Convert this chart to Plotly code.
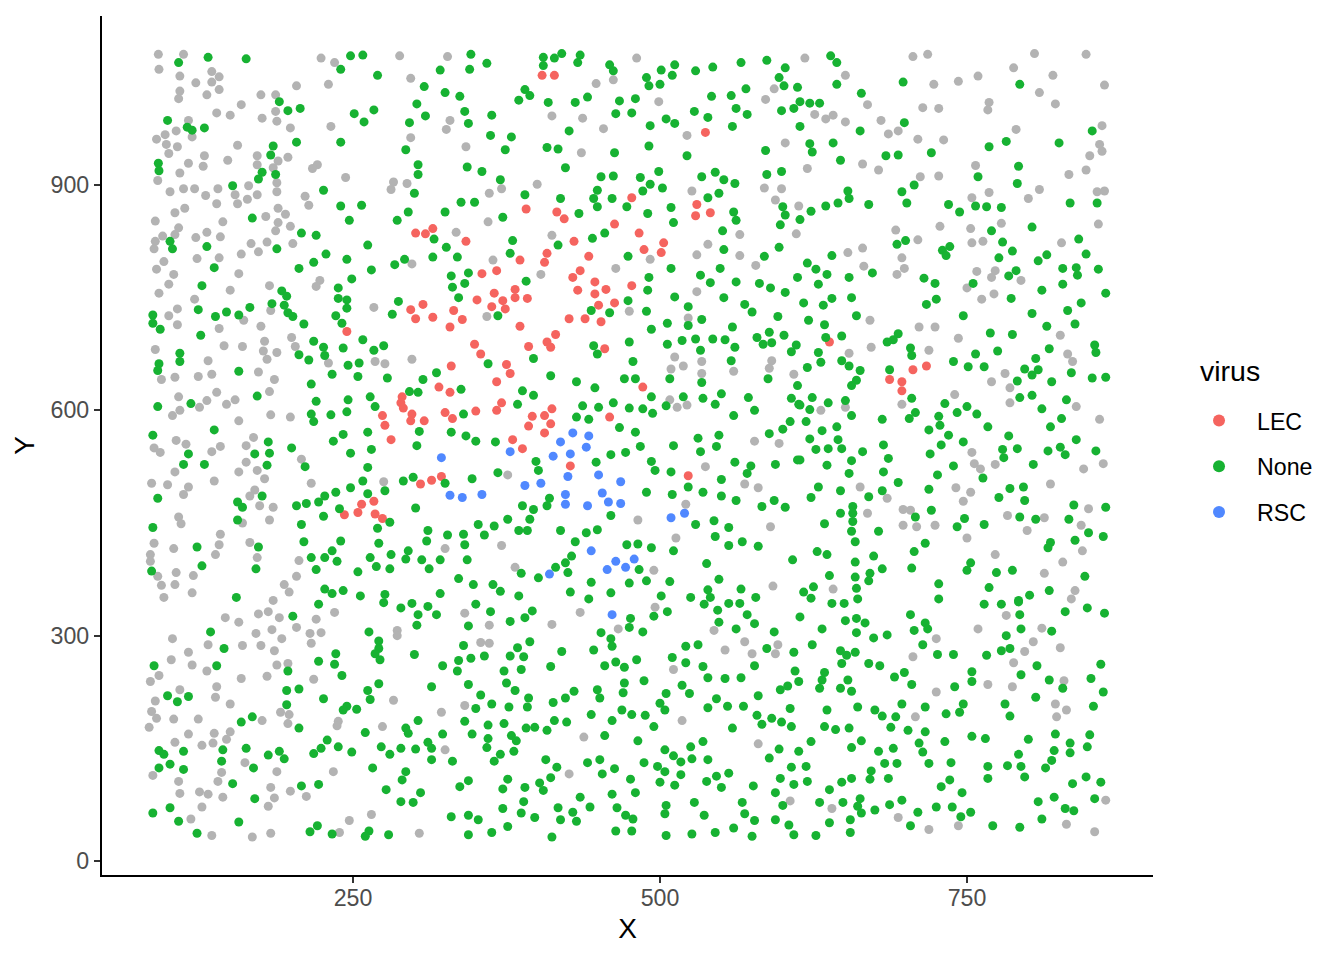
import plotly.graph_objects as go

lec_points = [(301,836),(309,835),(315,842),(307,741),(297,734),(301,722),(315,724),
(404,1046),(414,1046),(537,970),(391,868),(416,864),(422,855),(477,883),(530,874),(529,859),(541,863),(463,848),(483,836),(342,825),(430,825),(503,823),(487,814),(501,810),(408,809),(406,797),(386,800),(442,805),(355,782),(367,786),(435,786),(429,777),(447,771),(456,761),(433,760),(447,755),(477,766),(382,761),(382,750),(392,749),(365,756),(351,747),(372,746),(363,738),(374,735),(450,740),(463,743),(332,733),(339,721),(426,722),(439,722),(452,718),
(245,705),(274,593),(276,580),(281,561),(290,618),(289,610),(291,603),(298,595),(297,586),(308,586),(320,631),(325,597),(322,512),(314,507),(305,502),(267,479),(257,475),(254,464),(243,461),(268,462),(274,456),(329,711),
(386,712),(415,701),(408,691),(393,685),(411,684),(349,688),(354,675),(455,682),(375,661),(378,649),(367,638),(330,659),(486,631),(371,610),(367,600),(350,599),(412,602),(396,592),(406,593),(411,582),(393,579),(406,570),(459,591),(331,589),(329,624),(380,561),(388,549),(427,526),(523,513),
(638,691),(706,654),(717,659),(687,641),(697,638),(697,626)]

rsc_points = [(322,537),(429,570),(442,566),(419,558),(440,551),(378,545),(427,542),(413,539),(425,512),(450,514),(468,505),(403,503),(390,500),(423,488),(453,490),(458,478),(468,476),(423,475),(441,473),(355,488),(339,484),(329,487),(509,457),(520,463),(444,413),(479,402),(464,399),(472,391),(457,388),(410,382),(461,328)]

unlabelled_top = [(91.5,1074),(112,1074),(92,1054),(109,1045),(135,1051),(141,1044),(122,1036),(135,1037),(109,1025),(108,1015),(141,1027),(131,1020),(175,1020),(187,1020),(159,1007),(139,996),(150,993),(187,998),(176,989),(188,985),(116,986),(106,972),(97,967),(90,961),(119,964),(98,954),(107,951),(100,942),(156,953),(199,976),(204,1032),(230,1034),(224,1069),(235,1063),(288,1072),(327,1071),(297,1042),(232,978),(297,963),(329,986),(326,974),
(129,939),(116,929),(128,925),(148,933),(172,939),(172,927),(189,932),(197,937),(185,923),(109,916),(91,906),(188,903),(165,899),(188,891),(172,887),(164,881),(154,887),(156,875),(139,875),(140,895),(130,886),(121,895),(112,895),(101,891),(221,927),(217,922),(244,910),(211,885),(214,873),(283,904),(281,894),(294,902),(113,869),(105,863),(89,852),(144,851),(189,869),(195,861),(179,858),(189,850),(108,843),(105,834),(95,832),(89,825),(88,815),(131,837),(122,830),(142,831),(187,839),(199,845),(167,822),(180,824),(173,811),(201,822),(159,808),(141,803),(123,802),(96,798),(90,788),(104,781),(100,768),(92,756),(157,782),(298,795),(223,773),(220,765),(182,766),(150,760),(121,748),(107,735),(100,726),(267,737),(183,733),(161,720),
(481,1069),(448,1035),(462,1040),(499,1011),(412,992),(437,989),(454,975),(342,951),(436,943),(522,966),(361,889),(371,895),(400,901),(360,851),(334,837),(412,833),(526,892),(585,896),(599,895),(594,880),(593,1028),(586,1014),(602,956),(613,872),(611,835),(565,834),(539,821),(530,807),(565,806),(578,793),(492,801),(464,789),(364,800),(403,781),(530,758),(475,732),(359,725),(523,723),
(618,1069),(706,1071),(718,1074),(805,1075),(847,1074),(788,1056),(759,1045),(743,1038),(820,1046),(651,1046),(723,1034),(809,1023),(862,1033),(669,1007),(714,1003),(727,1002),(768,1010),(767,1000),(822,1008),(626,994),(635,988),(641,993),(651,984),(680,986),(686,968),(694,972),(710,961),(731,960),(790,974),(860,979),(858,954),(860,945),(850,939),(847,920),(833,914),(620,922),(665,928),(678,920),(712,911),(727,912),(757,926),(768,890),(754,883),(800,882),(809,894),(856,891),(862,892),(857,848),(778,849),(728,845),(753,842),(692,840),(710,827),(754,823),(763,825),(827,823),(653,810),(665,816),(697,803),(666,792),(699,789),(693,781),(758,785),(773,786),(770,777),(794,773),(750,763),(762,748),(772,755),(671,720)]

unlabelled_mid = [(107,714),(175,712),(141,709),(200,697),(178,692),(145,686),(160,685),(203,685),(89,681),(177,679),(188,677),(180,668),(132,666),(230,663),(268,665),(276,662),(298,668),(173,651),(135,648),(124,645),(105,644),(94,641),(186,641),(182,625),(139,624),(108,618),(131,613),(154,614),(147,608),(125,604),(109,600),(103,593),(183,594),(199,591),(157,586),(169,564),(106,560),(114,555),(163,553),(142,552),(88,550),(93,544),(135,545),(208,535),(163,531),(105,518),(157,518),(172,520),(178,509),(137,506),(86,503),(99,501),(216,503),(275,505),(116,498),(170,494),(166,486),(112,488),(174,473),(185,471),(182,454),(160,450),(108,458),(110,449),(142,435),(141,421),(88,423),(104,416),(166,424),(138,408),(85,408),(85,399),(172,404),(206,400),(325,416),(106,384),(120,380),(91,379),(94,367),(105,368),(204,379),(194,368),(198,358),(119,357),(96,351),(185,347),
(512,671),(519,659),(509,655),(534,665),(534,649),(560,652),(591,666),(589,656),(609,648),(508,614),(514,604),(522,607),(577,559),(597,556),(537,525),(376,514),(569,502),(580,497),(521,475),(482,454),(590,445),(513,430),(371,420),(382,391),(495,387),(592,366),
(711,711),(724,711),(743,696),(826,700),(672,684),(654,676),(719,680),(832,675),(836,665),(781,649),(770,638),(785,630),(785,610),(740,621),(697,608),(631,600),(651,604),(839,605),(858,588),(754,544),(756,529),(761,522),(773,528),(845,522),(861,529),(818,502),(663,498),(741,497),(753,491),(685,483),(747,479),(698,468),(704,467),(669,463),(849,469),(783,460),(813,457),(843,447),(698,447),(709,445),(724,447),(799,440),(750,430),(844,413),(773,408),(828,398),(813,383),(641,362),(838,360),(835,349)]

unlabelled_low = [(146,324),(157,318),(173,329),(181,332),(190,324),(220,322),(235,331),(184,308),(171,303),(204,311),(215,303),(224,304),(192,296),(103,296),(132,288),(160,287),(175,287),(216,290),(186,280),(286,307),(286,300),(116,278),(102,268),(119,261),(131,253),(188,261),(197,263),(159,243),(180,246),(218,242),(92,247),(85,239),(139,232),(109,228),(138,218),(89,213),(150,209),(283,214),(86,199),(191,198),(198,195),(322,198),(90,190),(104,189),(124,189),(176,187),(197,183),(238,186),(237,180),(84,178),(274,179),(116,169),(137,170),(150,172),(147,162),(105,158),(136,157),(127,154),(325,148),(162,131),(87,114),(143,118),(188,119),(234,119),(108,106),(140,106),(183,98),(109,90),(125,92),(132,89),(144,85),(199,93),(186,84),(212,86),(127,72),(181,73),(265,62),(118,56),(247,54),(239,38),(183,37),(304,37),(135,34),(168,32),
(341,330),(435,331),(496,338),(412,315),(361,314),(466,309),(354,291),(361,290),(341,207),(544,307),(569,292),(553,281),(575,276),(596,288),(594,276),(511,255),(518,187),(438,165),(580,156),(426,116),(606,80),
(782,327),(759,309),(811,310),(804,292),(725,296),(826,284),(797,279),(706,272),(788,264),(829,240),(767,235),(787,232),(725,225),(822,209),(831,201),(823,192),(708,192),(640,70),(694,58),(863,81),(831,49),(719,42),(743,47),(854,39)]

none_top_left = [(108,1063),(132,1070),(163,1068),(248,1072),(258,1073),(240,1054),(270,1046),(321,1053),(308,1031),(325,1023),(302,1008),(309,992),(296,983),(293,947),(190,1011),(197,999),(207,1002),(251,995),(267,1000),(259,984),(240,957),(204,957),(99,986),(115,977),(119,973),(129,976),(185,952),(183,940),(91.5,929),(92,919),(176,917),(187,914),(173,908),(152,899),(226,893),(303,927),(303,914),(300,889),(240,872),(257,873),(247,853),(286,853),(295,864),(325,864),(168,856),(208,836),(220,833),(101,825),(103,815),(131,818),(188,815),(262,820),(316,828),(326,817),(228,808),(245,801),(218,797),(206,789),(137,790),(292,801),(284,794),(315,804),(265,787),(249,775),(127,766),(238,763),(192,759),(196,752),(184,742),(194,740),(197,730),(238,749),(245,747),(245,736),(287,745),(282,728),(124,734),(147,731),(157,727),(166,737),(138,725),(87,727),(201,725),(236,726)]

none_top_mid = [(346,1074),(345,1054),(359,1062),(405,1070),(405,1059),(414,1069),(420,1075),(435,1073),(433,1063),(459,1060),(462,1052),(489,1043),(501,1053),(512,1060),(510,1046),(491,1032),(500,1034),(529,1052),(543,1057),(566,1063),(587,1066),(602,1056),(597,1043),(601,1032),(612,1030),(337,1018),(390,1027),(394,1019),(385,1013),(409,1010),(431,1010),(441,1017),(467,1012),(480,1015),(341,998),(344,982),(363,993),(362,966),(379,964),(374,947),(426,972),(408,950),(417,948),(464,995),(477,996),(492,979),(505,988),(512,982),(528,998),(539,990),(542,1018),(558,1019),(570,1028),(562,1002),(571,994),(559,978),(599,999),(609,1002),(614,1011),(491,952),(463,943),(522,939),(586,946),(423,923),(343,924),(355,918),(370,907),(390,887),(338,877),(349,877),(372,857),(419,882),(434,862),(452,911),(462,912),(449,893),(446,882),(461,882),(449,871),(473,871),(484,910),(499,918),(492,901),(486,892),(502,896),(490,862),(509,870),(511,850),(534,911),(545,917),(552,907),(561,902),(548,889),(539,883),(560,864),(562,853),(587,914),(599,918),(600,871),(602,860),(598,847),(614,854),(614,978),(551,839),(455,836),(445,829),(417,820),(380,826),(378,809),(335,804),(474,805),(552,814),(597,817),(585,805),(549,789),(509,789),(491,777),(490,760),(474,746),(512,751),(533,780),(541,770),(562,771),(581,769),(590,763),(602,757),(612,777),(552,750),(569,741),(575,731),(596,725),(523,738),(489,732),(459,730),(444,733),(344,783),(330,779),(341,769),(331,764),(336,750),(391,772),(368,726),(534,721)]

none_top_right = [(639,1072),(644,1063),(644,1034),(698,1037),(664,1022),(793,1034),(622,1009),(630,1009),(663,972),(699,983),(622,955),(624,944),(641,956),(647,933),(684,939),(694,940),(721,943),(768,951),(782,958),(825,956),(852,972),(792,925),(759,911),(791,902),(707,900),(697,891),(701,876),(653,892),(654,882),(645,876),(635,872),(623,865),(670,874),(735,874),(744,864),(757,872),(766,871),(778,870),(834,876),(856,876),(803,844),(770,839),(779,824),(787,812),(841,828),(847,808),(815,807),(808,799),(776,803),(693,821),(700,826),(736,818),(730,813),(733,806),(640,806),(620,796),(627,788),(636,781),(629,768),(654,777),(673,783),(715,776),(724,769),(790,786),(784,779),(755,769),(828,789),(839,790),(840,780),(857,788),(828,768),(811,760),(863,756),(843,743),(832,733),(803,729),(786,749),(725,748),(717,741),(747,726),(660,726),(656,750),(640,749),(633,740),(617,743),(621,720)]

none_mid_left = [(87,716),(93,708),(126,700),(210,715),(241,716),(218,692),(226,684),(258,694),(242,683),(275,686),(267,680),(109,676),(92,662),(109,665),(91,653),(157,652),(206,674),(227,673),(214,667),(246,660),(255,663),(233,648),(254,645),(278,643),(216,635),(172,619),(91,605),(118,609),(220,612),(246,614),(264,618),(268,605),(296,625),(303,624),(307,641),(318,650),(216,595),(218,585),(232,594),(245,598),(137,574),(87,567),(304,572),(242,568),(234,559),(262,571),(181,558),(116,542),(170,542),(182,543),(200,550),(248,543),(265,548),(302,553),(112,528),(129,528),(180,527),(211,525),(262,524),(258,506),(291,506),(299,511),(325,503),(91,483),(176,486),(156,478),(160,471),(204,473),(212,476),(222,478),(227,486),(236,491),(248,497),(262,489),(276,493),(239,469),(226,459),(301,470),(156,454),(280,451),(87,444),(208,448),(270,443),(311,440),(327,434),(310,426),(210,425),(240,426),(271,423),(123,418),(173,418),(233,413),(295,413),(281,408),(264,404),(293,402),(306,401),(321,401),(216,404),(227,404),(237,399),(127,393),(171,389),(86,386),(220,388),(254,385),(269,392),(280,389),(312,389),(227,362),(233,356),(242,360),(256,353),(276,355),(321,356),(155,351)]

none_mid_mid = [(493,708),(506,716),(523,713),(559,711),(446,686),(449,675),(475,691),(506,688),(518,693),(529,695),(543,695),(553,694),(561,684),(533,680),(558,666),(478,665),(397,669),(360,662),(411,646),(432,638),(471,642),(480,642),(508,642),(534,637),(447,630),(338,628),(388,626),(397,620),(384,608),(493,618),(519,618),(505,606),(535,616),(545,608),(550,622),(462,610),(437,606),(450,604),(475,603),(486,602),(494,596),(560,593),(340,595),(432,591),(442,588),(467,577),(480,571),(330,571),(342,566),(350,559),(366,558),(531,563),(548,567),(546,552),(533,545),(511,553),(484,552),(472,544),(460,541),(448,531),(399,532),(401,520),(368,517),(347,509),(493,532),(496,520),(509,518),(561,531),(574,526),(571,516),(550,508),(523,498),(489,491),(510,488),(535,491),(550,486),(562,480),(410,483),(408,473),(388,473),(397,468),(593,480),(583,472),(602,471),(460,460),(376,455),(394,455),(352,448),(365,446),(385,440),(392,440),(340,435),(357,434),(419,440),(440,437),(449,441),(529,448),(544,453),(556,444),(545,432),(556,420),(567,425),(580,419),(341,421),(431,425),(473,421),(482,422),(493,417),(511,413),(343,401),(428,406),(423,397),(415,391),(425,384),(401,377),(387,383),(483,388),(538,396),(608,401),(336,376),(348,368),(364,368),(370,359),(385,353),(427,358),(444,371),(475,370),(489,373),(508,372),(548,375),(539,361),(566,362),(460,357),(442,349),(501,353),(525,351),(541,351),(578,351),
(579,697),(589,704),(601,700),(584,688),(591,690),(611,687),(607,678),(588,642),(612,633),(607,616),(613,608),(572,617),(577,600),(606,585),(600,575),(589,569),(594,528),(612,534)]

none_mid_right = [(634,714),(815,712),(838,715),(635,697),(648,699),(694,702),(690,694),(685,691),(769,703),(787,701),(704,683),(705,673),(629,677),(631,664),(620,657),(648,666),(654,659),(663,653),(660,640),(656,633),(687,654),(739,665),(757,675),(775,679),(817,682),(854,687),(855,677),(806,669),(751,658),(764,658),(797,655),(808,654),(803,647),(791,639),(819,638),(835,650),(852,643),(863,644),(793,617),(803,620),(705,616),(624,617),(614,607),(637,610),(651,613),(622,601),(656,593),(619,585),(681,588),(708,597),(703,589),(732,609),(742,597),(750,605),(758,595),(727,592),(728,580),(719,574),(735,567),(767,578),(811,602),(831,614),(827,589),(818,578),(644,578),(632,573),(622,562),(645,561),(627,548),(637,549),(648,549),(665,545),(682,554),(686,536),(656,533),(614,534),(636,527),(654,516),(682,518),(729,554),(747,558),(720,542),(739,526),(726,514),(784,566),(779,548),(791,549),(780,537),(804,528),(816,546),(826,551),(830,541),(839,561),(855,546),(763,510),(694,504),(629,498),(647,493),(623,484),(670,485),(681,493),(719,495),(785,496),(796,498),(776,484),(797,480),(657,472),(657,463),(647,463),(657,452),(634,449),(656,439),(678,439),(659,425),(708,458),(721,467),(748,456),(742,445),(764,448),(793,458),(806,455),(833,455),(837,474),(863,471),(849,437),(861,432),(838,427),(818,424),(816,417),(716,423),(707,412),(628,412),(636,408),(674,406),(659,398),(753,397),(681,389),(671,383),(659,378),(670,373),(705,390),(750,387),(774,384),(787,387),(846,379),(638,380),(625,365),(617,358),(660,363),(727,369),(768,364),(817,360),(801,354),(792,347),(623,350),(661,349),(727,349)]

none_low_left = [(222,342),(275,344),(289,337),(298,343),(311,339),(303,328),(318,328),(302,314),(201,326),(134,305),(263,305),(271,293),(145,283),(271,283),(268,276),(236,276),(300,275),(272,268),(222,266),(235,262),(88,260),(139,260),(323,260),(197,253),(241,247),(271,236),(314,232),(206,229),(196,227),(262,227),(99,220),(116,219),(107,212),(226,216),(264,215),(196,208),(245,206),(242,201),(253,202),(168,192),(159,185),(303,187),(206,177),(293,177),(295,170),(260,171),(323,169),(311,158),(314,150),(229,161),(224,150),(238,152),(273,152),(289,150),(301,149),(92,147),(96,142),(112,146),(144,148),(163,150),(190,146),(181,141),(194,136),(218,143),(249,145),(280,142),(314,135),(143,133),(101,129),(92,124),(112,122),(169,124),(266,124),(293,119),(290,108),(152,103),(208,100),(222,102),(277,95),(305,91),(170,83),(289,79),(299,78),(87,64),(101,71),(108,53),(157,52),(123,37),(221,47),(215,39),(233,36),(263,40),(260,33),(279,35)]

none_low_mid = [(350,342),(362,332),(396,333),(390,324),(378,319),(344,313),(476,323),(475,311),(495,326),(506,332),(536,342),(556,343),(565,343),(547,334),(571,328),(548,318),(577,316),(562,309),(593,305),(614,325),(486,305),(452,304),(460,296),(461,286),(446,281),(420,279),(394,292),(384,284),(340,287),(378,273),(389,272),(357,273),(346,270),(336,267),(335,253),(373,253),(387,255),(411,259),(521,286),(531,288),(510,271),(521,264),(535,259),(587,283),(609,278),(577,260),(610,253),(539,244),(553,243),(566,244),(455,260),(464,265),(471,258),(481,268),(471,237),(487,240),(344,235),(375,237),(382,227),(354,221),(393,217),(430,226),(423,217),(413,211),(449,228),(451,217),(470,224),(505,223),(518,234),(524,223),(598,228),(604,233),(613,239),(580,220),(546,216),(500,210),(504,201),(539,204),(555,206),(568,206),(606,203),(350,203),(363,209),(377,205),(392,205),(469,201),(477,195),(488,194),(444,195),(461,187),(579,194),(591,190),(599,185),(583,182),(607,179),(559,177),(495,179),(341,186),(360,181),(373,183),(414,187),(424,185),(391,177),(398,178),(408,174),(347,169),(379,167),(383,160),(360,163),(359,151),(381,146),(370,142),(365,133),(331,133),(455,167),(482,160),(535,159),(525,152),(504,148),(511,140),(517,132),(526,136),(539,135),(597,149),(589,137),(613,146),(407,135),(416,125),(411,111),(441,131),(451,135),(463,123),(453,116),(487,131),(498,126),(504,119),(517,115),(556,117),(546,113),(538,106),(550,98),(607,125),(598,110),(609,102),(576,100),(594,91),(476,109),(500,105),(512,101),(344,107),(337,99),(376,109),(372,96),(390,98),(402,104),(405,94),(461,89),(480,91),(435,85),(389,79),(372,70),(417,71),(443,72),(465,71),(505,74),(528,78),(567,78),(600,74),(330,59),(344,61),(352,55),(387,64),(398,58),(429,65),(419,55),(432,53),(472,61),(478,56),(504,63),(536,61),(569,63),(577,54),(594,55),(605,48),(376,46),(363,38),(344,35),(412,32),(464,40),(477,40),(505,34),(526,36),(545,38),(560,44),(575,33),(609,35)]

none_low_right = [(640,343),(650,343),(651,320),(660,323),(667,317),(632,309),(660,304),(674,297),(685,301),(704,328),(716,317),(718,309),(707,307),(714,288),(726,275),(739,275),(624,288),(647,280),(652,274),(659,278),(648,263),(670,263),(679,260),(634,251),(632,241),(630,230),(653,241),(647,230),(656,226),(691,245),(699,251),(705,235),(740,232),(754,252),(754,239),(766,274),(778,280),(785,283),(782,300),(794,309),(819,306),(793,328),(764,342),(778,342),(792,345),(830,332),(848,337),(862,330),(807,260),(794,248),(817,241),(859,262),(851,243),(828,230),(861,225),(806,218),(781,209),(785,193),(853,206),(636,201),(661,205),(675,201),(681,193),(697,209),(692,192),(716,205),(733,196),(747,209),(744,198),(634,179),(643,175),(654,177),(688,178),(702,174),(716,172),(754,166),(765,163),(800,162),(822,169),(850,168),(623,159),(664,160),(656,151),(690,150),(678,146),(711,157),(732,159),(714,145),(834,157),(848,152),(834,144),(821,147),(819,134),(792,142),(619,126),(683,130),(693,130),(719,130),(737,131),(783,127),(794,126),(814,124),(767,126),(672,120),(671,109),(686,110),(656,110),(648,105),(620,106),(767,110),(797,112),(736,108),(729,99),(847,112),(859,105),(836,103),(638,95),(746,91),(663,83),(630,78),(649,78),(661,73),(664,64),(675,68),(687,75),(697,81),(821,85),(808,79),(854,83),(830,70),(837,67),(710,65),(725,72),(738,72),(753,65),(745,59),(811,56),(638,51),(655,55),(704,47),(771,47),(793,45),(655,38),(627,34)]

unlabelled_points = unlabelled_top + unlabelled_mid + unlabelled_low
none_points = (none_top_left + none_top_mid + none_top_right + none_mid_left + none_mid_mid
               + none_mid_right + none_low_left + none_low_mid + none_low_right)

x_ticks = [250, 500, 750]
y_ticks = [0, 300, 600, 900]

fig = go.Figure()
FONT = "Liberation Sans, Arial, sans-serif"
SIZE = 9

def add(points, name, color, show=True):
    fig.add_trace(go.Scatter(
        x=[p[0] for p in points], y=[p[1] for p in points],
        mode="markers", name=name, legendgroup=name, showlegend=show,
        marker=dict(color=color, size=SIZE, line=dict(width=0)),
        hoverinfo="x+y+name"))

add(unlabelled_points, "NA", "#B3B3B3", show=False)
add(lec_points, "LEC", "#F5645F")
add(none_points, "None", "#17B232")
add(rsc_points, "RSC", "#5088FF")

fig.add_annotation(text="virus", xref="paper", yref="paper",
                   x=1.0428, y=0.5867, xanchor="left", yanchor="middle",
                   showarrow=False, font=dict(size=28.5, color="black"))

fig.update_layout(
    width=1336, height=952, autosize=False,
    margin=dict(l=94, r=191, t=8, b=85, pad=0),
    paper_bgcolor="white", plot_bgcolor="white",
    font=dict(family=FONT, color="black"),
    legend=dict(
        font=dict(size=23.2, color="black"),
        xref="container", yref="container",
        x=0.878, xanchor="left", y=0.5893, yanchor="top",
        tracegroupgap=12.5, itemwidth=66, itemsizing="constant",
        traceorder="grouped", bgcolor="rgba(0,0,0,0)"),
)
fig.update_xaxes(
    title=dict(text="X", font=dict(size=28, color="black"), standoff=8),
    range=[45.6, 901.5], tickmode="array", tickvals=x_ticks,
    tickfont=dict(size=23.2, color="#4D4D4D"), ticklabelstandoff=-5,
    ticks="outside", ticklen=6, tickwidth=2, tickcolor="#333333",
    showgrid=False, zeroline=False, showline=True, linecolor="black", linewidth=2.2)
fig.update_yaxes(
    title=dict(text="Y", font=dict(size=28, color="black"), standoff=8),
    range=[-18.6, 1125], tickmode="array", tickvals=y_ticks,
    tickfont=dict(size=23.2, color="#4D4D4D"),
    ticks="outside", ticklen=6, tickwidth=2, tickcolor="#333333",
    showgrid=False, zeroline=False, showline=True, linecolor="black", linewidth=2.2)

fig.write_html("out.html")
